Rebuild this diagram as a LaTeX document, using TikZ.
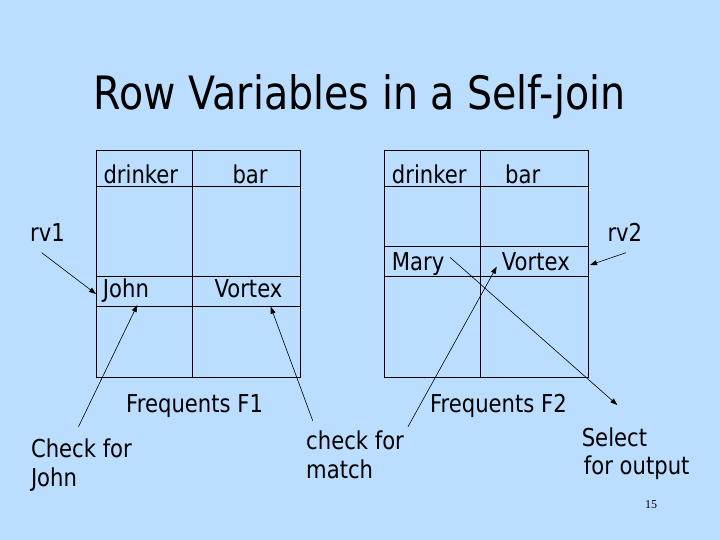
\documentclass[tikz,border=0pt]{standalone}
\usepackage{fontspec}
\setmainfont{DejaVu Sans}[FakeStretch=0.86]
\newfontfamily\pagenumfont{Liberation Serif}
\usetikzlibrary{arrows.meta}
\definecolor{bg}{RGB}{187,221,255}
\tikzset{
  txt/.style={anchor=base west, inner sep=0pt, font=\fontsize{24.6}{28}\selectfont},
  tbl/.style={draw=black, line width=0.9pt},
  arr/.style={draw=black, line width=0.6pt, -{Triangle[length=7pt,width=5pt]}},
}
\begin{document}
\begin{tikzpicture}[x=1pt,y=-1pt]
\fill[bg] (0,0) rectangle (720,540);
\useasboundingbox (0,0) rectangle (720,540);

% title
\node[anchor=base, inner sep=0pt, font=\fontsize{46}{50}\selectfont] (title) at (359.5,110) {Row Variables in a Self-join};

% left table F1
\draw[tbl] (96.7,150) rectangle (300,377.7);
\draw[tbl] (192,150) -- (192,377.7);
\draw[tbl] (96.7,186) -- (300,186);
\draw[tbl] (96.7,276) -- (300,276);
\draw[tbl] (96.7,306) -- (300,306);

% right table F2
\draw[tbl] (384.3,150) rectangle (588.7,377.7);
\draw[tbl] (480.3,150) -- (480.3,377.7);
\draw[tbl] (384.3,186) -- (588.7,186);
\draw[tbl] (384.3,246.7) -- (588.7,246.7);
\draw[tbl] (384.3,276) -- (588.7,276);

% cell texts
\node[txt] (drL) at (103.3,183.5) {drinker};
\node[txt] (barL) at (232.3,183.5) {bar};
\node[txt] (john) at (102.7,297.3) {John};
\node[txt] (vortL) at (214.3,297.3) {Vortex};
\node[txt] (drR) at (391.7,183.5) {drinker};
\node[txt] (barR) at (505,183.5) {bar};
\node[txt] (mary) at (391.7,270) {Mary};
\node[txt] (vortR) at (501.7,270) {Vortex};

% labels
\node[txt] (rv1) at (30,241) {rv1};
\node[txt] (rv2) at (607.3,241) {rv2};
\node[txt] (f1) at (126,412.7) {Frequents F1};
\node[txt] (f2) at (429.8,412.7) {Frequents F2};
\node[txt] (cj1) at (30.8,457.3) {Check for};
\node[txt] (cj2) at (30.8,486.7) {John};
\node[txt] (cm1) at (306,449.3) {check for};
\node[txt] (cm2) at (306,478.3) {match};
\node[txt] (so1) at (581.6,446) {Select};
\node[txt] (so2) at (583.7,474) {for output};
\node[anchor=base, inner sep=0pt, font=\pagenumfont\fontsize{12}{14}\selectfont] (pg) at (651,508) {15};

% connector ends
\coordinate (rv1s) at (41.7,252.7);
\coordinate (rv1e) at (96,294);
\coordinate (cjs) at (78.5,426.7);
\coordinate (cje) at (137.3,305);
\coordinate (cvs) at (312.7,420.7);
\coordinate (cve) at (270.7,306.7);
\coordinate (rv2s) at (626,252.7);
\coordinate (rv2e) at (590,265);
\coordinate (cms) at (408,426.7);
\coordinate (cme) at (496.7,266.7);
\coordinate (mys) at (450,257.3);
\coordinate (mye) at (617.3,405);

\draw[arr] (rv1s) -- (rv1e);
\draw[arr] (cjs) -- (cje);
\draw[arr] (cvs) -- (cve);
\draw[arr] (rv2s) -- (rv2e);
\draw[arr] (cms) -- (cme);
\draw[arr] (mys) -- (mye);
\end{tikzpicture}
\end{document}
